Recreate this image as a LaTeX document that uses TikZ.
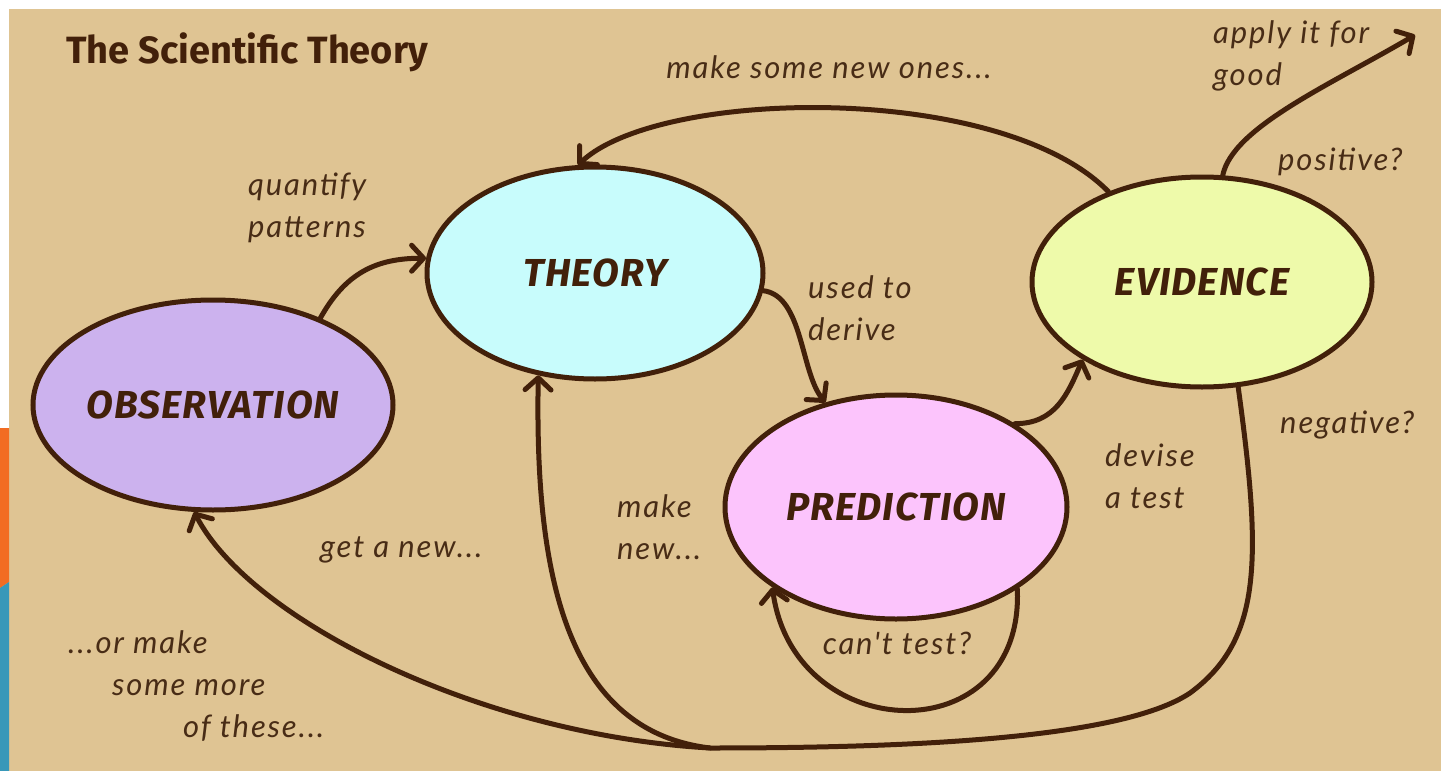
\documentclass[tikz,border=0pt]{standalone}
\usepackage{fontspec}
\newfontfamily\comic{Fira Sans}
\newfontfamily\hand{Lato}[LetterSpace=6]
\usetikzlibrary{shapes.geometric}
\usetikzlibrary{arrows.meta}
\definecolor{paper}{RGB}{223,196,147}
\definecolor{ink}{RGB}{66,32,10}
\definecolor{pencil}{RGB}{72,44,22}
\definecolor{lilac}{RGB}{204,178,238}
\definecolor{aqua}{RGB}{200,252,252}
\definecolor{rose}{RGB}{252,196,252}
\definecolor{lemon}{RGB}{238,250,170}
\definecolor{barorange}{RGB}{242,108,34}
\definecolor{barblue}{RGB}{55,152,185}

\begin{document}
\begin{tikzpicture}[x=1pt,y=1pt,
    bubble/.style={ellipse, draw=ink, line width=5pt, inner sep=0pt, text=ink,
      font=\comic\bfseries\itshape\fontsize{39}{42}\selectfont\addfontfeature{LetterSpace=3}},
    flow/.style={draw=ink, line width=5pt, line cap=round,
      -{Straight Barb[round,length=12pt,width=26pt]}},
    note/.style={inner sep=0pt, align=left, text=pencil,
      font=\hand\itshape\fontsize{31}{42}\selectfont}]
    \useasboundingbox (0,0) rectangle (1441,-771);
    % paper and side bars
    \fill[paper] (0,0) rectangle (1441,-771);
    \fill[white] (0,0) rectangle (1441,-9);
    \fill[white] (0,0) rectangle (9,-428);
    \fill[barorange] (0,-428) -- (9,-428) -- (9,-582) -- (0,-588) -- cycle;
    \fill[barblue] (0,-588) -- (9,-582) -- (9,-771) -- (0,-771) -- cycle;

    \node[anchor=west, inner sep=0pt, text=ink, font=\comic\bfseries\fontsize{38}{40}\selectfont]
      (title) at (66,-52) {The Scientific Theory};

    % the four stages
    \node[bubble, fill=lilac, minimum width=360pt, minimum height=210pt] (obs) at (213,-405) {OBSERVATION};
    \node[bubble, fill=aqua, minimum width=336pt, minimum height=212pt] (thy) at (595,-273) {THEORY};
    \node[bubble, fill=rose, minimum width=342pt, minimum height=224pt] (pred) at (896,-507) {PREDICTION};
    \node[bubble, fill=lemon, minimum width=340pt, minimum height=210pt] (evid) at (1202,-282) {EVIDENCE};
    \coordinate (good) at (1415,-35);
    \coordinate (merge) at (710,-748);

    % connectors
    \draw[flow] (obs.39) .. controls +(25,45) and +(-50,0) .. (thy.175);
    \draw[flow] (thy.-6) .. controls +(40,-5) and +(-25,30) .. (pred.124);
    \draw[flow] (pred.35) .. controls +(40,0) and +(-15,-35) .. (evid.213);
    \draw[flow] (evid.136) .. controls +(-108,110) and +(82,77) .. (thy.99);
    \draw[flow] (evid.79) .. controls +(10,48) and +(-85,-50) .. (good);
    \draw[flow] (pred.-34) .. controls +(7,-165) and +(22,-160) .. (pred.213);
    \draw[flow] (evid.-71) .. controls (1262,-560) and (1262,-640) .. (1190,-693)
      .. controls (1120,-740) and (900,-748) .. (merge)
      .. controls (480,-735) and (250,-620) .. (obs.-100);
    \draw[flow] (merge) .. controls (560,-730) and (535,-560) .. (thy.-119);

    % handwritten notes
    \node[note, anchor=west] (quant) at (248,-208) {quantify\\patterns};
    \node[note] (newones) at (829,-67) {make some new ones...};
    \node[note, anchor=west] (apply) at (1213,-56) {apply it for\\good};
    \node[note, anchor=west] (pos) at (1278,-162) {positive?};
    \node[note, anchor=west] (used) at (808,-308) {used to\\derive};
    \node[note, anchor=west] (neg) at (1280,-425) {negative?};
    \node[note, anchor=west] (devise) at (1105,-476) {devise\\a test};
    \node[note, anchor=west] (makenew) at (617,-527) {make\\new...};
    \node[note, anchor=west] (getnew) at (320,-550) {get a new...};
    \node[note] (cant) at (897,-643) {can't test?};
    \node[note, anchor=west] (ormore) at (68,-686)
      {...or make\\\hspace*{44pt}some more\\\hspace*{115pt}of these...};
\end{tikzpicture}
\end{document}
